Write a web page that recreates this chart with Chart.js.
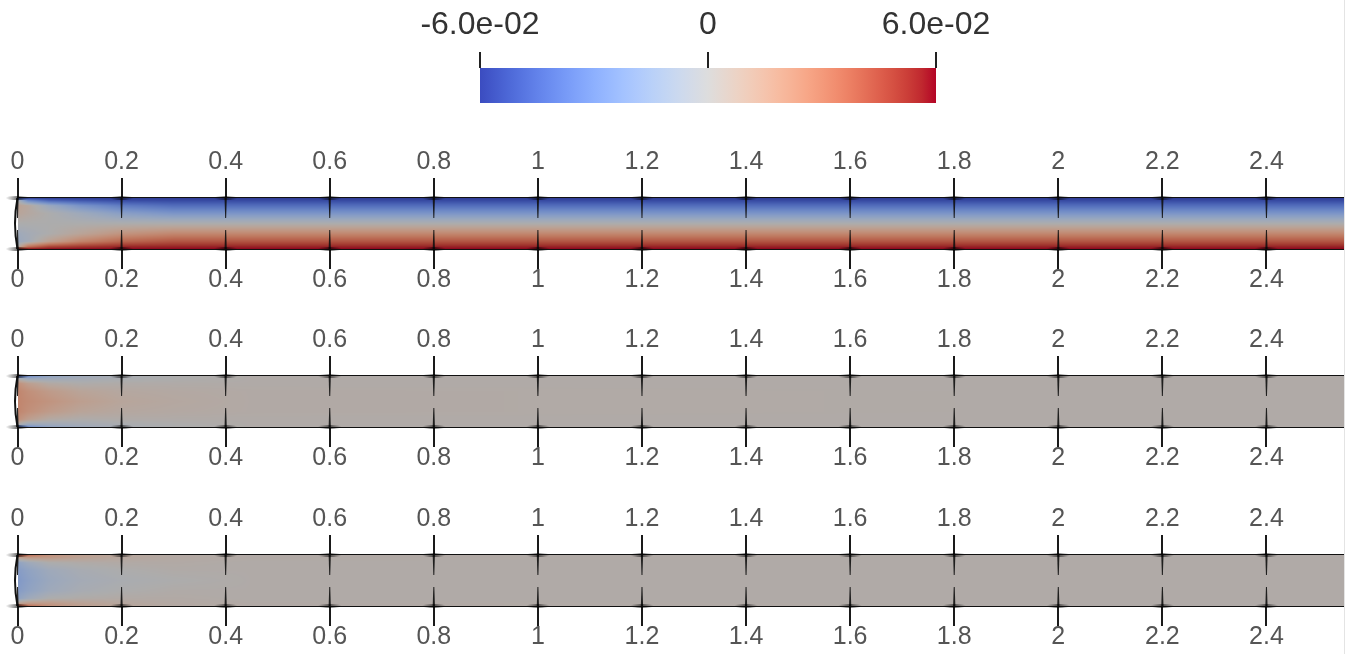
<!DOCTYPE html>
<html>
<head>
<meta charset="utf-8">
<title>Campo en el canal</title>
<script src="https://cdn.jsdelivr.net/npm/chart.js@4.4.1/dist/chart.umd.min.js"></script>
<style>
  body { margin: 0; width: 1352px; height: 654px; overflow: hidden; background: #fff; position: relative; }
  .caja { position: absolute; }
  #borde { position: absolute; left: 1344px; top: 0; width: 1px; height: 654px; background: #e4e4e4; }
</style>
</head>
<body>
<div class="caja" style="left:380px; top:0px;"><canvas id="barra" width="656" height="120"></canvas></div>
<div class="caja" style="left:0px; top:138px;"><canvas id="tira1" width="1352" height="171"></canvas></div>
<div class="caja" style="left:0px; top:316px;"><canvas id="tira2" width="1352" height="171"></canvas></div>
<div class="caja" style="left:0px; top:495px;"><canvas id="tira3" width="1352" height="171"></canvas></div>
<div id="borde"></div>
<script>
// Barra de colores
var barraTicks = [-0.06, 0, 0.06];
var barraEtiquetas = ["-6.0e-02", "0", "6.0e-02"];

// Eje x de cada tira
var ejeTicks = [0, 0.2, 0.4, 0.6, 0.8, 1, 1.2, 1.4, 1.6, 1.8, 2, 2.2, 2.4];
var ejeEtiquetas = ["0", "0.2", "0.4", "0.6", "0.8", "1", "1.2", "1.4", "1.6", "1.8", "2", "2.2", "2.4"];
var xMax = 2.549;

// Malla del campo: columnas en x, filas como fraccion de la altura (0 = arriba)
var xCols = [0, 0.02, 0.06, 0.12, 0.2, 0.3, 0.45, 2.549];
var yFilas = [0, 0.05, 0.15, 0.3, 0.5, 0.7, 0.85, 0.95, 1];

// valores por columna (de arriba a abajo)
var campo1 = [
  [-0.06, 0.0, 0.01, 0.008, 0, -0.008, -0.01, 0.0, 0.06],
  [-0.06, -0.03, 0.006, 0.005, 0, -0.005, -0.006, 0.03, 0.06],
  [-0.06, -0.045, -0.01, 0.0, 0, 0.0, 0.01, 0.045, 0.06],
  [-0.06, -0.05, -0.025, -0.008, 0, 0.008, 0.025, 0.05, 0.06],
  [-0.06, -0.054, -0.036, -0.018, 0, 0.018, 0.036, 0.054, 0.06],
  [-0.06, -0.055, -0.042, -0.024, 0, 0.024, 0.042, 0.055, 0.06],
  [-0.06, -0.055, -0.042, -0.024, 0, 0.024, 0.042, 0.055, 0.06],
  [-0.06, -0.055, -0.042, -0.024, 0, 0.024, 0.042, 0.055, 0.06]
];
var campo2 = [
  [-0.05, 0.0, 0.02, 0.025, 0.025, 0.025, 0.02, 0.0, -0.05],
  [-0.03, -0.01, 0.012, 0.02, 0.022, 0.02, 0.012, -0.01, -0.03],
  [-0.015, -0.008, 0.004, 0.014, 0.018, 0.014, 0.004, -0.008, -0.015],
  [-0.008, -0.005, 0.001, 0.008, 0.012, 0.008, 0.001, -0.005, -0.008],
  [-0.003, -0.002, 0.002, 0.005, 0.007, 0.005, 0.002, -0.002, -0.003],
  [0.0, 0.0, 0.002, 0.004, 0.005, 0.004, 0.002, 0.0, 0.0],
  [0.002, 0.002, 0.002, 0.003, 0.003, 0.003, 0.002, 0.002, 0.002],
  [0.002, 0.002, 0.002, 0.002, 0.002, 0.002, 0.002, 0.002, 0.002]
];
var campo3 = [
  [0.05, 0.01, -0.015, -0.02, -0.022, -0.02, -0.015, 0.01, 0.05],
  [0.035, 0.015, -0.008, -0.015, -0.017, -0.015, -0.008, 0.015, 0.035],
  [0.02, 0.015, 0.0, -0.008, -0.01, -0.008, 0.0, 0.015, 0.02],
  [0.012, 0.01, 0.002, -0.003, -0.005, -0.003, 0.002, 0.01, 0.012],
  [0.007, 0.006, 0.003, 0.0, -0.002, 0.0, 0.003, 0.006, 0.007],
  [0.004, 0.004, 0.003, 0.002, 0.0, 0.002, 0.003, 0.004, 0.004],
  [0.003, 0.003, 0.002, 0.002, 0.002, 0.002, 0.002, 0.003, 0.003],
  [0.002, 0.002, 0.002, 0.002, 0.002, 0.002, 0.002, 0.002, 0.002]
];

// mapa de color "Cool to Warm" (33 pasos iguales)
var mapaColor = [
  [59,76,192],[68,90,204],[77,104,215],[87,117,225],[98,130,234],[108,142,241],
  [119,154,247],[130,165,251],[141,176,254],[152,185,255],[163,194,255],[174,201,253],
  [184,208,249],[194,213,244],[204,217,238],[213,219,230],[221,221,221],[229,216,209],
  [236,211,197],[241,204,185],[245,196,173],[247,187,160],[247,177,148],[247,166,135],
  [244,154,123],[241,141,111],[236,127,99],[229,112,88],[222,96,77],[213,80,66],
  [203,62,56],[192,40,47],[180,4,38]
];
var sombra = 0.78;

function colorDe(v) {
  var t = (v - barraTicks[0]) / (barraTicks[2] - barraTicks[0]);
  t = Math.max(0, Math.min(1, t)) * (mapaColor.length - 1);
  var i = Math.min(Math.floor(t), mapaColor.length - 2);
  var f = t - i;
  var a = mapaColor[i], b = mapaColor[i + 1];
  return [a[0] + (b[0] - a[0]) * f, a[1] + (b[1] - a[1]) * f, a[2] + (b[2] - a[2]) * f];
}

// marca del tick cruzando el borde: brazo interior fino y mancha horizontal
function marca(ctx, x, y, dentro) {
  ctx.fillStyle = "rgba(15,15,15,0.9)";
  ctx.beginPath();
  ctx.moveTo(x - 1.1, y);
  ctx.lineTo(x + 1.1, y);
  ctx.lineTo(x + 0.5, y + dentro);
  ctx.lineTo(x - 0.5, y + dentro);
  ctx.closePath();
  ctx.fill();
  var g = ctx.createLinearGradient(x - 12, 0, x + 12, 0);
  g.addColorStop(0, "rgba(0,0,0,0)");
  g.addColorStop(0.5, "rgba(0,0,0,0.55)");
  g.addColorStop(1, "rgba(0,0,0,0)");
  ctx.fillStyle = g;
  ctx.beginPath();
  ctx.ellipse(x, y, 12, 2, 0, 0, Math.PI * 2);
  ctx.fill();
}

function pluginCampo(campo) {
  return {
    id: "campo",
    beforeDatasetsDraw: function(chart) {
      var a = chart.chartArea, sx = chart.scales.x, sy = chart.scales.y;
      var x0 = Math.round(a.left), y0 = Math.round(a.top);
      var w = Math.round(a.right) - x0, h = Math.round(a.bottom) - y0;
      var off = document.createElement("canvas");
      off.width = w; off.height = h;
      var oc = off.getContext("2d");
      var img = oc.createImageData(w, h);
      for (var i = 0; i < w; i++) {
        var xv = sx.getValueForPixel(x0 + i + 0.5);
        var k = 0;
        while (k < xCols.length - 2 && xv > xCols[k + 1]) k++;
        var tx = Math.max(0, Math.min(1, (xv - xCols[k]) / (xCols[k + 1] - xCols[k])));
        for (var j = 0; j < h; j++) {
          var yv = sy.getValueForPixel(y0 + j + 0.5);
          var m = 0;
          while (m < yFilas.length - 2 && yv > yFilas[m + 1]) m++;
          var ty = Math.max(0, Math.min(1, (yv - yFilas[m]) / (yFilas[m + 1] - yFilas[m])));
          var v0 = campo[k][m] + (campo[k][m + 1] - campo[k][m]) * ty;
          var v1 = campo[k + 1][m] + (campo[k + 1][m + 1] - campo[k + 1][m]) * ty;
          var c = colorDe(v0 + (v1 - v0) * tx);
          var p = (j * w + i) * 4;
          img.data[p] = c[0] * sombra;
          img.data[p + 1] = c[1] * sombra;
          img.data[p + 2] = c[2] * sombra;
          img.data[p + 3] = 255;
        }
      }
      oc.putImageData(img, 0, 0);
      chart.ctx.drawImage(off, x0, y0);
    },
    afterDraw: function(chart) {
      var a = chart.chartArea, ctx = chart.ctx, sx = chart.scales.x;
      ctx.save();
      // borde izquierdo algo curvado
      ctx.strokeStyle = "#111";
      ctx.lineWidth = 2;
      ctx.beginPath();
      ctx.moveTo(a.left, a.top);
      ctx.quadraticCurveTo(a.left - 5, (a.top + a.bottom) / 2, a.left, a.bottom);
      ctx.stroke();
      sx.ticks.forEach(function(t) {
        var px = sx.getPixelForValue(t.value);
        marca(ctx, px, a.top, 20);
        marca(ctx, px, a.bottom, -19);
      });
      ctx.restore();
    }
  };
}

function ejeX(posicion, padding) {
  return {
    type: "linear",
    position: posicion,
    axis: "x",
    min: 0,
    max: xMax,
    z: 1,
    afterBuildTicks: function(scale) {
      scale.ticks = ejeTicks.map(function(v) { return { value: v }; });
    },
    afterFit: function(scale) { scale.height = 60; },
    grid: { drawOnChartArea: false, drawTicks: true, tickLength: 20, color: "#1a1a1a", lineWidth: 2 },
    border: { display: true, color: "#111", width: 2 },
    ticks: {
      autoSkip: false,
      maxRotation: 0,
      padding: padding,
      color: "#555",
      font: { family: "Liberation Sans", size: 25, lineHeight: 1 },
      callback: function(v, i) { return ejeEtiquetas[i]; }
    }
  };
}

function hacerTira(id, campo) {
  var puntos = [];
  xCols.forEach(function(x, k) {
    yFilas.forEach(function(y, m) { puntos.push({ x: x, y: y, v: campo[k][m] }); });
  });
  return new Chart(document.getElementById(id), {
    type: "scatter",
    data: { datasets: [{ data: puntos, pointRadius: 0, showLine: false }] },
    options: {
      responsive: false,
      animation: false,
      devicePixelRatio: 1,
      events: [],
      layout: { padding: { left: 17.5, right: 8, top: 0, bottom: 0 } },
      plugins: { legend: { display: false }, tooltip: { enabled: false } },
      scales: {
        x: ejeX("bottom", -1.5),
        xArriba: ejeX("top", 3),
        y: { type: "linear", display: false, min: 0, max: 1, reverse: true }
      }
    },
    plugins: [pluginCampo(campo)]
  });
}

hacerTira("tira1", campo1);
hacerTira("tira2", campo2);
hacerTira("tira3", campo3);

// barra de colores
new Chart(document.getElementById("barra"), {
  type: "scatter",
  data: { datasets: [] },
  options: {
    responsive: false,
    animation: false,
    devicePixelRatio: 1,
    events: [],
    layout: { padding: { left: 100, right: 100, top: 0, bottom: 17 } },
    plugins: { legend: { display: false }, tooltip: { enabled: false } },
    scales: {
      x: {
        type: "linear",
        position: "top",
        min: barraTicks[0],
        max: barraTicks[2],
        z: 1,
        afterBuildTicks: function(scale) {
          scale.ticks = barraTicks.map(function(v) { return { value: v }; });
        },
        afterFit: function(scale) { scale.height = 68; },
        grid: { drawOnChartArea: false, drawTicks: true, tickLength: 16, color: "#222", lineWidth: 2 },
        border: { display: false },
        ticks: {
          autoSkip: false,
          maxRotation: 0,
          padding: 11,
          color: "#333",
          font: { family: "Liberation Sans", size: 32, lineHeight: 1 },
          callback: function(v, i) { return barraEtiquetas[i]; }
        }
      },
      y: { type: "linear", display: false, min: 0, max: 1 }
    }
  },
  plugins: [{
    id: "degradado",
    beforeDatasetsDraw: function(chart) {
      var a = chart.chartArea, sx = chart.scales.x, ctx = chart.ctx;
      var g = ctx.createLinearGradient(sx.getPixelForValue(barraTicks[0]), 0, sx.getPixelForValue(barraTicks[2]), 0);
      mapaColor.forEach(function(c, i) {
        g.addColorStop(i / (mapaColor.length - 1), "rgb(" + c[0] + "," + c[1] + "," + c[2] + ")");
      });
      ctx.save();
      ctx.fillStyle = g;
      ctx.fillRect(a.left, a.top, a.right - a.left, a.bottom - a.top);
      ctx.restore();
    }
  }]
});
</script>
</body>
</html>
